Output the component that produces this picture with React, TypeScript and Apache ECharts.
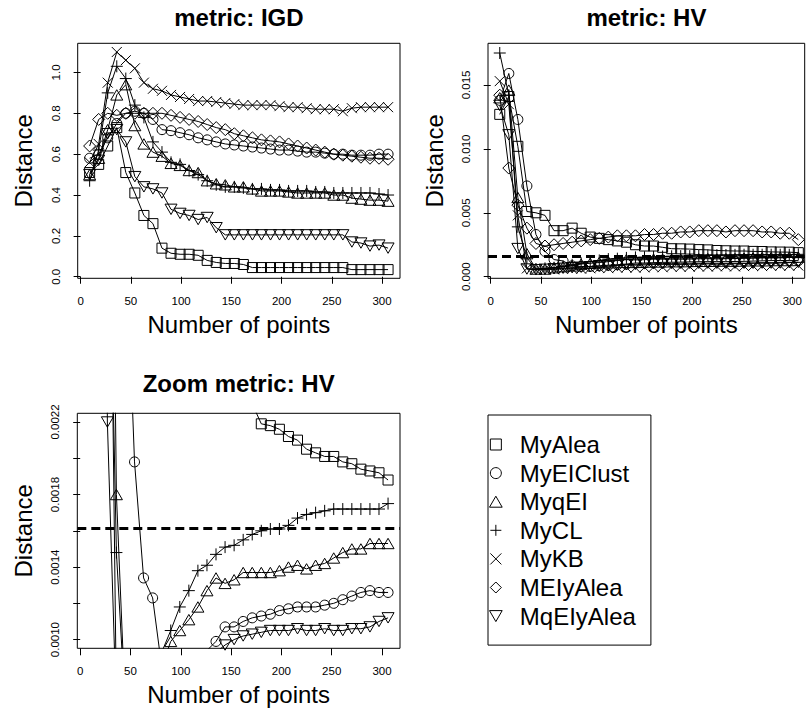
import React, { useEffect, useRef } from "react";
import * as echarts from "echarts";

const FONT = "'Liberation Sans', Arial, Helvetica, sans-serif";

// x positions (number of points)
const X_POINTS = [9, 18, 27, 36, 45, 54, 63, 72, 81, 90, 99, 108, 117, 126, 135, 144, 153, 162, 171, 180, 189, 198, 207, 216, 225, 234, 243, 252, 261, 270, 279, 288, 297, 306];

const SERIES_NAMES = ["MyAlea", "MyEIClust", "MyqEI", "MyCL", "MyKB", "MEIyAlea", "MqEIyAlea"];

// metric: IGD
const IGD_MY_ALEA = [0.51, 0.55, 0.64, 0.73, 0.51, 0.41, 0.30, 0.26, 0.14, 0.115, 0.11, 0.11, 0.105, 0.08, 0.07, 0.065, 0.065, 0.06, 0.045, 0.045, 0.045, 0.045, 0.045, 0.045, 0.045, 0.045, 0.045, 0.045, 0.045, 0.035, 0.035, 0.035, 0.035, 0.035];
const IGD_MY_EICLUST = [0.58, 0.60, 0.68, 0.75, 0.80, 0.81, 0.80, 0.77, 0.72, 0.715, 0.705, 0.695, 0.68, 0.67, 0.66, 0.65, 0.645, 0.64, 0.635, 0.63, 0.625, 0.62, 0.62, 0.615, 0.61, 0.61, 0.605, 0.60, 0.60, 0.595, 0.595, 0.595, 0.60, 0.60];
const IGD_MY_QEI = [0.50, 0.58, 0.72, 0.89, 0.94, 0.74, 0.65, 0.61, 0.59, 0.555, 0.545, 0.52, 0.51, 0.47, 0.455, 0.45, 0.44, 0.44, 0.43, 0.42, 0.42, 0.42, 0.415, 0.41, 0.41, 0.41, 0.41, 0.40, 0.40, 0.385, 0.38, 0.375, 0.375, 0.37];
const IGD_MY_CL = [0.47, 0.62, 0.90, 1.03, 0.97, 0.84, 0.78, 0.66, 0.61, 0.56, 0.55, 0.52, 0.50, 0.47, 0.45, 0.44, 0.44, 0.435, 0.43, 0.43, 0.425, 0.425, 0.42, 0.42, 0.42, 0.415, 0.415, 0.41, 0.41, 0.41, 0.41, 0.41, 0.405, 0.40];
const IGD_MY_KB = [0.56, 0.65, 0.95, 1.10, 1.06, 1.02, 0.95, 0.92, 0.91, 0.89, 0.88, 0.87, 0.86, 0.86, 0.855, 0.85, 0.845, 0.84, 0.84, 0.84, 0.84, 0.835, 0.83, 0.83, 0.825, 0.82, 0.82, 0.82, 0.81, 0.825, 0.83, 0.83, 0.83, 0.83];
const IGD_MEIY_ALEA = [0.64, 0.77, 0.80, 0.79, 0.80, 0.80, 0.80, 0.80, 0.80, 0.79, 0.78, 0.77, 0.76, 0.745, 0.73, 0.72, 0.70, 0.69, 0.68, 0.67, 0.665, 0.66, 0.65, 0.64, 0.63, 0.62, 0.61, 0.60, 0.595, 0.59, 0.585, 0.58, 0.58, 0.575];
const IGD_MQEIY_ALEA = [0.50, 0.57, 0.70, 0.72, 0.66, 0.49, 0.44, 0.43, 0.41, 0.33, 0.31, 0.30, 0.28, 0.29, 0.24, 0.205, 0.205, 0.205, 0.205, 0.205, 0.205, 0.205, 0.205, 0.205, 0.205, 0.205, 0.205, 0.205, 0.205, 0.17, 0.165, 0.15, 0.155, 0.14];

// metric: HV
const HV_MY_ALEA = [0.0127, 0.0141, 0.0102, 0.0051, 0.0050, 0.0048, 0.0036, 0.0036, 0.0038, 0.0034, 0.0031, 0.0030, 0.0029, 0.0028, 0.0027, 0.0025, 0.0024, 0.0024, 0.0023, 0.00219, 0.00218, 0.00216, 0.00212, 0.0021, 0.00205, 0.00203, 0.00201, 0.00201, 0.00198, 0.00197, 0.00194, 0.00193, 0.00192, 0.00188];
const HV_MY_EICLUST = [0.0138, 0.0159, 0.0123, 0.0071, 0.0033, 0.00198, 0.00134, 0.00123, 0.00085, 0.0008, 0.0008, 0.00085, 0.0009, 0.00094, 0.00099, 0.00107, 0.00107, 0.0011, 0.00112, 0.00113, 0.00114, 0.00116, 0.00117, 0.00118, 0.00118, 0.00118, 0.00119, 0.0012, 0.00122, 0.00124, 0.00126, 0.00127, 0.00126, 0.00126];
const HV_MY_QEI = [0.0140, 0.0146, 0.0062, 0.0018, 0.0006, 0.0006, 0.0007, 0.00078, 0.00085, 0.00099, 0.00105, 0.00111, 0.00118, 0.00127, 0.00134, 0.00131, 0.00133, 0.00137, 0.00137, 0.00137, 0.00137, 0.00138, 0.0014, 0.00141, 0.00139, 0.00141, 0.00142, 0.00145, 0.00148, 0.0015, 0.0015, 0.00153, 0.00153, 0.00153];
const HV_MY_CL = [0.0175, 0.0142, 0.0039, 0.00148, 0.0006, 0.00065, 0.0007, 0.0008, 0.00093, 0.00105, 0.00118, 0.00127, 0.00138, 0.00141, 0.00147, 0.00151, 0.00152, 0.00155, 0.00158, 0.0016, 0.00161, 0.00161, 0.00163, 0.00167, 0.00169, 0.0017, 0.00171, 0.00172, 0.00172, 0.00172, 0.00172, 0.00172, 0.00172, 0.00175];
const HV_MY_KB = [0.0153, 0.0135, 0.0048, 0.00065, 0.00055, 0.00058, 0.00057, 0.00061, 0.00063, 0.00062, 0.00066, 0.00068, 0.00067, 0.0007, 0.00072, 0.0007, 0.00073, 0.00075, 0.00074, 0.00077, 0.00076, 0.00078, 0.0008, 0.00079, 0.00081, 0.00082, 0.0008, 0.00083, 0.00084, 0.00083, 0.00085, 0.00086, 0.00085, 0.00087];
const HV_MEIY_ALEA = [0.0142, 0.0085, 0.0056, 0.0038, 0.0026, 0.0024, 0.0025, 0.0026, 0.0027, 0.0028, 0.0029, 0.0030, 0.0031, 0.0032, 0.0032, 0.0032, 0.0033, 0.0033, 0.0034, 0.0034, 0.0035, 0.0035, 0.0036, 0.0036, 0.0036, 0.0035, 0.0036, 0.0036, 0.0036, 0.0035, 0.0035, 0.0034, 0.0034, 0.0029];
const HV_MQEIY_ALEA = [0.0134, 0.0111, 0.0022, 0.0006, 0.00055, 0.00058, 0.00062, 0.00066, 0.0007, 0.00074, 0.00078, 0.00082, 0.00085, 0.00089, 0.00093, 0.00097, 0.001, 0.00102, 0.00103, 0.00104, 0.00105, 0.00105, 0.00105, 0.00106, 0.00105, 0.00105, 0.00106, 0.00105, 0.00105, 0.00106, 0.00106, 0.00107, 0.0011, 0.00112];

const HV_REFERENCE = 0.001616;

const IGD_SERIES = [IGD_MY_ALEA, IGD_MY_EICLUST, IGD_MY_QEI, IGD_MY_CL, IGD_MY_KB, IGD_MEIY_ALEA, IGD_MQEIY_ALEA];
const HV_SERIES = [HV_MY_ALEA, HV_MY_EICLUST, HV_MY_QEI, HV_MY_CL, HV_MY_KB, HV_MEIY_ALEA, HV_MQEIY_ALEA];

// tick labels
const X_TICKS = [0, 50, 100, 150, 200, 250, 300];
const IGD_TICKS = [0, 0.2, 0.4, 0.6, 0.8, 1.0];
const HV_TICKS = [0, 0.005, 0.01, 0.015];
const ZOOM_TICKS = [0.001, 0.0012, 0.0014, 0.0016, 0.0018, 0.002, 0.0022];
const ZOOM_LABELS = [0.001, 0.0014, 0.0018, 0.0022];

const SYMBOLS = [
  { symbol: "path://M0,0L10,0L10,10L0,10Z", size: 10 },
  { symbol: "circle", size: 10 },
  { symbol: "path://M5,0L10,8.66L0,8.66Z", size: 12 },
  { symbol: "path://M0,5L10,5M5,0L5,10", size: 12 },
  { symbol: "path://M0,0L10,10M10,0L0,10", size: 10 },
  { symbol: "path://M5,0L10,5L5,10L0,5Z", size: 12 },
  { symbol: "path://M0,0L10,0L5,8.66Z", size: 12 },
];

const GRIDS = [
  { left: 77.7, top: 43.3, width: 322.3, height: 235 },
  { left: 488, top: 43.3, width: 316.7, height: 235 },
  { left: 77.3, top: 413.3, width: 322.7, height: 235 },
];

const X_RANGES = [
  [-2.88, 317.88],
  [-2.69, 312.35],
  [-2.88, 317.88],
];
const Y_RANGES = [
  [-0.0076, 1.1426],
  [-0.000125, 0.01826],
  [0.000952, 0.002248],
];

const TEXT = { color: "#000", fontFamily: FONT };

function xAxisCfg(i: number) {
  return {
    type: "value",
    gridIndex: i,
    min: X_RANGES[i][0],
    max: X_RANGES[i][1],
    name: "Number of points",
    nameLocation: "middle",
    nameGap: 34,
    nameTextStyle: { ...TEXT, fontSize: 24 },
    axisLine: { show: false },
    axisTick: { show: true, length: 7, customValues: X_TICKS, lineStyle: { color: "#000", width: 1 } },
    axisLabel: { show: true, customValues: X_TICKS, margin: 17, fontSize: 11.5, ...TEXT },
    splitLine: { show: false },
  };
}

function yAxisCfg(i: number, ticks: number[], labels: number[], digits: number) {
  return {
    type: "value",
    gridIndex: i,
    min: Y_RANGES[i][0],
    max: Y_RANGES[i][1],
    name: "Distance",
    nameLocation: "middle",
    nameGap: 42,
    nameRotate: 90,
    nameTextStyle: { ...TEXT, fontSize: 24 },
    axisLine: { show: false },
    axisTick: { show: true, length: 7, customValues: ticks, lineStyle: { color: "#000", width: 1 } },
    axisLabel: {
      show: true,
      customValues: labels,
      rotate: 90,
      margin: 16,
      fontSize: 11.5,
      ...TEXT,
      formatter: (v: number) => v.toFixed(digits),
    },
    splitLine: { show: false },
  };
}

function refLine() {
  return {
    silent: true,
    precision: 8,
    symbol: ["none", "none"],
    label: { show: false },
    lineStyle: { color: "#000", width: 3, type: [9, 5] },
    data: [{ yAxis: HV_REFERENCE }],
  };
}

function makeSeries(gridIndex: number, values: number[][], withRef: boolean) {
  return SERIES_NAMES.map((name, k) => ({
    type: "line",
    name,
    xAxisIndex: gridIndex,
    yAxisIndex: gridIndex,
    data: X_POINTS.map((x, j) => [x, values[k][j]]),
    symbol: SYMBOLS[k].symbol,
    symbolSize: SYMBOLS[k].size,
    symbolKeepAspect: true,
    itemStyle: { color: "rgba(0,0,0,0)", borderColor: "#000", borderWidth: 1 },
    lineStyle: { color: "#000", width: 1 },
    emphasis: { disabled: true },
    clip: true,
    markLine: withRef && k === 0 ? refLine() : undefined,
  }));
}

export default function App() {
  const ref = useRef<HTMLDivElement>(null);

  useEffect(() => {
    if (!ref.current) return;
    const chart = echarts.init(ref.current, null, { renderer: "svg" });
    const titleStyle = { ...TEXT, fontSize: 24, fontWeight: "bold" };
    chart.setOption({
      animation: false,
      backgroundColor: "#fff",
      title: [
        { text: "metric: IGD", left: 238.9, top: 5, textAlign: "center", padding: 0, textStyle: titleStyle },
        { text: "metric: HV", left: 646.4, top: 5, textAlign: "center", padding: 0, textStyle: titleStyle },
        { text: "Zoom metric: HV", left: 238.7, top: 371.5, textAlign: "center", padding: 0, textStyle: titleStyle },
      ],
      legend: {
        orient: "vertical",
        left: 488,
        top: 415,
        padding: [17.5, 15, 17, 1],
        itemWidth: 38,
        itemHeight: 11,
        itemGap: 4.6,
        borderColor: "#000",
        borderWidth: 1,
        selectedMode: false,
        symbolKeepAspect: true,
        textStyle: { ...TEXT, fontSize: 24, lineHeight: 24 },
        itemStyle: { color: "rgba(0,0,0,0)", borderColor: "#000", borderWidth: 1 },
        data: SERIES_NAMES.map((n, k) => ({ name: n, icon: SYMBOLS[k].symbol })),
      },
      grid: GRIDS.map((g) => ({
        ...g,
        show: true,
        borderColor: "#000",
        borderWidth: 1,
        backgroundColor: "rgba(0,0,0,0)",
        containLabel: false,
      })),
      xAxis: [xAxisCfg(0), xAxisCfg(1), xAxisCfg(2)],
      yAxis: [
        yAxisCfg(0, IGD_TICKS, IGD_TICKS, 1),
        yAxisCfg(1, HV_TICKS, HV_TICKS, 3),
        yAxisCfg(2, ZOOM_TICKS, ZOOM_LABELS, 4),
      ],
      series: [
        ...makeSeries(0, IGD_SERIES, false),
        ...makeSeries(1, HV_SERIES, true),
        ...makeSeries(2, HV_SERIES, true),
      ],
    });
    return () => chart.dispose();
  }, []);

  return (
    <div
      ref={ref}
      style={{ position: "absolute", left: 0, top: 0, width: 806, height: 714 }}
    />
  );
}
